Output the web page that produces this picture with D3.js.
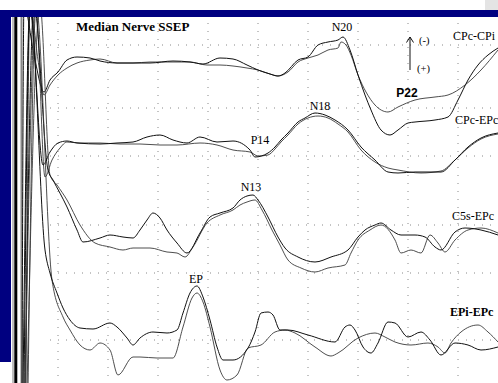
<!DOCTYPE html>
<meta charset="utf-8" />
<style>
  body { margin: 0; overflow: hidden; background: #fff; }
  svg { display: block; }
  text { font-family: "Liberation Serif", "Times New Roman", serif; fill: #000; }
</style>
<body>
<svg id="chart"></svg>
<script src="https://cdnjs.cloudflare.com/ajax/libs/d3/7.8.5/d3.min.js"></script>
<script>
var width = 498, height = 383;

// channels, top to bottom
var channels = ["CPc-CPi", "CPc-EPc", "C5s-EPc", "EPi-EPc"];

// two superimposed runs per channel, [ms, uV]  (negative = up)
var cpcCpiA = [[1.4,32.7],[1.6,-5.8],[2.6,-0.8],[3.6,2.9],[4.2,1.7],[5.0,0.9],[5.9,-0.3],[6.9,-0.6],[8.2,-0.5],[9.2,-0.2],[10.9,0],[12.5,0],[14.2,0],[16.5,-0.2],[18.2,-0.1],[19.5,0.1],[21.2,-0.5],[22.5,-0.4],[23.9,0.2],[25.0,0.7],[26.2,1.1],[27.0,1.3],[27.7,1.0],[29.0,-0.3],[30.0,-0.6],[31.0,-1.8],[32.0,-2.1],[33.0,-2.3],[33.5,-2.6],[34.2,-1.3],[35.0,1.2],[35.7,3.2],[36.3,4.7],[37.3,6.7],[38.2,7.2],[39.0,6.7],[40.0,6.0],[40.7,5.9],[42.7,5.7],[44.0,5.4],[45.0,3.7],[46.0,1.7],[47.0,0.2],[48.0,-0.8],[49.0,-1.5]];
var cpcCpiB = [[1.8,32.7],[2.2,-5.8],[3.0,-0.3],[3.6,3.2],[4.2,2.2],[5.0,1.2],[5.9,0.5],[6.9,0],[8.2,-0.3],[9.2,-0.4],[10.9,0],[12.5,0],[14.2,-0.1],[16.5,-0.1],[18.2,-0.1],[19.9,0.2],[21.2,0.2],[22.5,0.3],[23.9,0.5],[25.0,0.7],[26.2,1.1],[27.0,1.3],[28.0,0.9],[29.0,-0.1],[30.0,-0.5],[31.0,-0.8],[32.0,-1.3],[33.0,-1.5],[33.3,-2.1],[33.8,-1.8],[34.3,-0.8],[35.0,1.2],[35.8,2.9],[36.7,4.2],[38.0,4.9],[39.0,4.4],[40.7,3.7],[42.7,3.4],[44.0,3.2],[45.7,2.2],[47.3,0.7],[49.0,-1.3]];

var cpcEpcA = [[1.6,24.7],[2.2,-13.3],[3.5,2.2],[4.2,0.9],[5.0,0],[5.9,-0.2],[6.9,0],[9.2,0.1],[10.9,0],[12.5,-0.1],[13.9,-0.6],[15.2,-0.8],[16.5,-0.3],[17.9,0],[19.2,-0.6],[20.9,-0.1],[22.5,-0.2],[24.2,0.7],[24.7,1.4],[26.0,1.0],[26.7,0.4],[27.3,-0.3],[28.0,-1.0],[29.0,-2.1],[29.7,-2.5],[30.7,-3.0],[31.7,-2.8],[32.7,-2.3],[34.0,-1.3],[35.3,0.4],[36.7,1.7],[38.0,2.9],[39.0,3.0],[40.7,2.9],[42.3,2.9],[43.3,2.9],[44.7,1.7],[46.0,0.4],[47.3,-0.5],[49.0,-1.0]];
var cpcEpcB = [[2.0,24.7],[2.8,-13.3],[3.7,3.4],[4.4,1.7],[5.2,0.5],[5.9,-0.1],[7.2,0],[9.2,0],[11.2,0.1],[13.2,0.1],[15.2,0.2],[16.9,0.2],[19.2,0],[20.9,0.2],[22.5,0.7],[24.2,0.9],[25.0,1.3],[26.0,1.2],[26.7,0.6],[27.3,-0.1],[28.0,-0.8],[29.0,-1.9],[30.0,-2.5],[31.0,-2.7],[32.0,-2.5],[33.0,-1.9],[34.0,-1.1],[35.3,0.7],[36.7,1.9],[38.0,2.5],[39.0,2.7],[41.3,3.0],[43.3,2.8],[44.7,1.7],[46.0,0.5],[47.3,-0.4],[49.0,-0.9]];

var c5sEpcA = [[1.7,15.2],[2.6,-23.3],[4.0,-6.8],[4.5,-5.8],[5.9,-3.1],[6.9,-0.8],[7.5,0.4],[9.2,0],[10.2,-0.3],[11.5,-0.1],[12.5,0],[13.2,-0.8],[13.9,-1.8],[14.5,-2.5],[15.2,-2.0],[15.9,-0.8],[16.9,0.5],[17.9,1.5],[19.2,-0.5],[20.2,-2.1],[21.2,-2.5],[22.5,-3.0],[23.2,-3.8],[23.9,-4.2],[24.5,-4.3],[25.0,-3.8],[26.0,-2.1],[27.0,-0.1],[27.7,1.0],[29.0,1.9],[30.7,2.4],[32.3,1.9],[34.0,1.2],[35.0,-0.1],[35.7,-0.8],[36.7,-1.3],[37.3,-1.5],[38.3,-0.8],[39.3,-0.3],[40.7,-0.3],[41.7,-0.1],[42.7,0.9],[43.3,1.2],[44.7,-0.6],[45.7,-1.0],[47.3,-0.8],[49.0,-0.3]];
var c5sEpcB = [[1.9,15.2],[3.2,-23.3],[4.2,-6.3],[4.9,-5.3],[5.9,-3.8],[7.2,-1.3],[8.7,0.5],[10.2,0.9],[11.5,1.2],[12.5,1.0],[14.2,1.0],[15.9,1.4],[16.9,1.5],[17.7,1.9],[18.5,0.9],[19.9,-1.5],[21.2,-2.3],[22.5,-2.8],[23.2,-3.3],[23.9,-3.6],[24.7,-3.8],[25.4,-2.8],[26.4,-0.8],[27.2,0.7],[28.0,2.2],[29.3,3.0],[30.7,3.4],[32.0,3.0],[33.7,2.7],[34.3,1.5],[35.0,0.2],[36.2,-0.8],[37.3,-1.3],[38.7,0.2],[39.3,1.5],[40.3,1.2],[41.3,1.5],[42.2,-0.3],[43.0,0.5],[43.7,1.4],[44.7,0.2],[46.0,-0.8],[47.3,-1.0],[49.0,-0.5]];

var epiEpcA = [[1.5,5.8],[2.2,-32.7],[3.7,-8.2],[4.2,-5.9],[4.9,-3.9],[5.5,-2.4],[6.2,-1.2],[7.2,-0.4],[8.5,-0.3],[10.2,-0.9],[10.9,-0.5],[11.9,0.6],[12.5,1.3],[13.2,0.6],[14.5,0],[15.9,0.1],[16.9,-0.2],[17.5,-1.9],[18.2,-3.9],[18.9,-4.6],[19.5,-3.5],[20.2,-1.2],[20.9,1.5],[21.5,2.8],[22.5,2.8],[24.0,1.6],[24.7,0],[25.3,-1.9],[26.0,-2.0],[26.5,-1.7],[27.2,-0.2],[28.0,-0.2],[30.0,0.3],[32.7,1.0],[33.7,-0.5],[34.2,-0.7],[34.7,-0.2],[35.5,1.5],[36.3,2.1],[37.0,1.1],[38.0,-1.0],[38.7,-0.9],[40.0,0.5],[41.3,0],[42.2,0.8],[43.3,2.3],[44.7,1.1],[46.0,1.3],[47.3,1.8],[49.0,1.5]];
var epiEpcB = [[1.7,5.8],[2.8,-32.7],[4.4,-5.2],[5.5,-1.5],[6.2,-0.2],[7.2,1.3],[8.2,1.8],[9.2,1.1],[10.2,1.8],[11.0,4.3],[12.5,2.5],[13.2,2.5],[14.9,2.6],[16.5,2.6],[17.5,-0.5],[18.4,-3.4],[18.9,-3.9],[19.5,-3.0],[20.2,-0.5],[21.2,3.8],[21.9,4.8],[22.9,4.3],[24.0,1.6],[25.3,1.3],[26.7,0],[27.7,-0.2],[28.7,0.1],[30.7,1.5],[32.3,2.4],[33.0,2.1],[35.0,0.6],[36.7,0.1],[37.7,0.5],[38.7,1.0],[40.3,1.3],[42.0,1.1],[43.0,1.5],[43.7,2.1],[44.3,1.1],[45.3,0],[47.0,-0.7],[48.0,0],[49.0,1.0]];

var runsA = [cpcCpiA, cpcEpcA, c5sEpcA, epiEpcA];
var runsB = [cpcCpiB, cpcEpcB, c5sEpcB, epiEpcB];

// peak names and the latency (ms) they sit at
var peakNames = ["N20", "P22", "N18", "P14", "N13", "EP"];
var peakTimes = [33.4, 39.9, 31.2, 25.2, 24.3, 18.8];

var gridTimes = [5, 10, 15, 20, 25, 30, 35, 40, 45];

// ---- layout ----
var padTop = 17, padLeft = 12;
var x = d3.scaleLinear().domain([0, 49]).range([8, 498]);
// 10 px per uV, negative up
var amp = d3.scaleLinear().domain([-1, 1]).range([-10, 10]);
var baseY = [63, 143, 238, 332];
var gridY = [45, 108, 156, 225, 273, 340];
var peakLabelY = [31, 97, 110, 144, 191, 283];
var peakFont = ["serif", "sans", "serif", "serif", "serif", "serif"];
var chanLabelX = [453, 455, 452, 450];
var chanLabelY = [40, 124, 220, 316];

var svg = d3.select("#chart").attr("width", width).attr("height", height);

// frame
svg.append("rect").attr("x", 485).attr("y", 0).attr("width", 13).attr("height", 10).attr("fill", "#e4e4e4");
svg.append("rect").attr("x", 0).attr("y", 10).attr("width", width).attr("height", 7).attr("fill", "#000080");
svg.append("rect").attr("x", 0).attr("y", 10).attr("width", 11).attr("height", 352).attr("fill", "#000080");

svg.append("defs").append("clipPath").attr("id", "plot")
  .append("rect").attr("x", padLeft).attr("y", padTop).attr("width", width - padLeft).attr("height", height - padTop);

var plot = svg.append("g").attr("clip-path", "url(#plot)");

// dotted grid
plot.selectAll(".vg").data(gridTimes).enter().append("line")
  .attr("x1", d => x(d)).attr("x2", d => x(d))
  .attr("y1", padTop + 6).attr("y2", height)
  .attr("stroke", "#888").attr("stroke-width", 1).attr("stroke-dasharray", "1,7");
plot.selectAll(".hg").data(gridY).enter().append("line")
  .attr("x1", 50).attr("x2", width)
  .attr("y1", d => d).attr("y2", d => d)
  .attr("stroke", "#888").attr("stroke-width", 1).attr("stroke-dasharray", "1,7");

// stimulus marks on the left
plot.append("line").attr("x1", 13).attr("x2", 13).attr("y1", padTop).attr("y2", height).attr("stroke", "#aaa").attr("stroke-width", 1.5);
plot.append("line").attr("x1", 15.8).attr("x2", 15.8).attr("y1", padTop).attr("y2", height).attr("stroke", "#000").attr("stroke-width", 3);
plot.append("line").attr("x1", 21.5).attr("x2", 21.5).attr("y1", padTop).attr("y2", height).attr("stroke", "#888").attr("stroke-width", 2);

var line = d3.line().x(d => x(d[0])).y(d => amp(d[1])).curve(d3.curveMonotoneX);

channels.forEach(function(name, i) {
  var g = plot.append("g").attr("transform", "translate(0," + baseY[i] + ")");
  g.append("path").datum(runsB[i]).attr("d", line)
    .attr("fill", "none").attr("stroke", "#3a3a3a").attr("stroke-width", 0.9);
  g.append("path").datum(runsA[i]).attr("d", line)
    .attr("fill", "none").attr("stroke", "#111").attr("stroke-width", 1);
  svg.append("text").attr("x", chanLabelX[i]).attr("y", chanLabelY[i])
    .attr("font-size", 12).attr("font-weight", i == 3 ? "bold" : "normal").text(name);
});

peakNames.forEach(function(p, i) {
  var t = svg.append("text").attr("x", x(peakTimes[i])).attr("y", peakLabelY[i])
    .attr("text-anchor", "middle").attr("font-size", 12).text(p);
  if (peakFont[i] == "sans") t.style("font-family", "'Liberation Sans', Arial, sans-serif").attr("font-weight", "bold");
});

svg.append("text").attr("x", 76).attr("y", 31).attr("font-size", 13).attr("font-weight", "bold").text("Median Nerve SSEP");

// polarity arrow
svg.append("path").attr("d", "M410,70 V37 M406.5,42.5 L410,37 L413.5,42.5")
  .attr("fill", "none").attr("stroke", "#111").attr("stroke-width", 1);
svg.append("text").attr("x", 419).attr("y", 44).attr("font-size", 10.5).text("(-)");
svg.append("text").attr("x", 417).attr("y", 72).attr("font-size", 10.5).text("(+)");
</script>
</body>
